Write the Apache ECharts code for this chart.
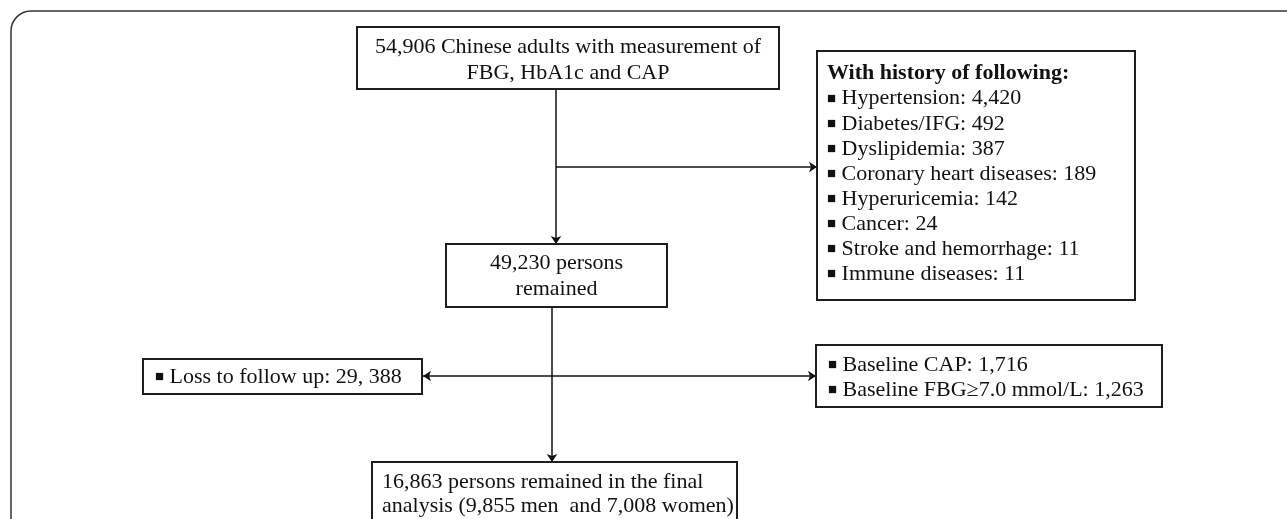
<!DOCTYPE html>
<html>
<head>
<meta charset="utf-8">
<script src="https://cdn.jsdelivr.net/npm/echarts@6/dist/echarts.min.js"></script>
<style>
html, body { margin: 0; padding: 0; background: #fff; }
#chart { width: 1287px; height: 519px; }
</style>
</head>
<body>
<div id="chart"></div>
<script>
// texts of the flow chart
var startLines = ["54,906 Chinese adults with measurement of", "FBG, HbA1c and CAP"];
var historyTitle = "With history of following:";
var historyItems = [
  "Hypertension: 4,420",
  "Diabetes/IFG: 492",
  "Dyslipidemia: 387",
  "Coronary heart diseases: 189",
  "Hyperuricemia: 142",
  "Cancer: 24",
  "Stroke and hemorrhage: 11",
  "Immune diseases: 11"
];
var remainLines = ["49,230 persons", "remained"];
var lossItems = ["Loss to follow up: 29, 388"];
var baselineItems = ["Baseline CAP: 1,716", "Baseline FBG\u22657.0 mmol/L: 1,263"];
var finalLines = ["16,863 persons remained in the final", "analysis (9,855 men  and 7,008 women)"];

var FONT = '"Liberation Serif", "Times New Roman", serif';

function bullets(items) {
  return items.map(function (s) { return "{b|\u25A0} " + s; });
}

// layout of the boxes (page pixels, y downwards)
var boxes = [
  { rect: [357, 27, 779, 89], lines: startLines, align: "center", tx: 568, ty: 34, lh: 26 },
  { rect: [817, 51, 1135, 300], lines: ["{t|" + historyTitle + "}"].concat(bullets(historyItems)), align: "left", tx: 827, ty: 61, lh: 25.1 },
  { rect: [446, 244, 667, 307], lines: remainLines, align: "center", tx: 556.5, ty: 250, lh: 26 },
  { rect: [143, 359, 422, 394], lines: bullets(lossItems), align: "left", tx: 155, ty: 364, lh: 26 },
  { rect: [816, 345, 1162, 407], lines: bullets(baselineItems), align: "left", tx: 828, ty: 352.5, lh: 25 },
  { rect: [372, 462, 737, 570], lines: finalLines, align: "left", tx: 382, ty: 470, lh: 24 }
];

// connectors, arrow at the end
var links = [
  [[556, 89], [556, 244]],
  [[556, 167], [817, 167]],
  [[552, 307], [552, 462]],
  [[552, 376], [423, 376]],
  [[552, 376], [816, 376]]
];

var chart = echarts.init(document.getElementById("chart"));

function renderBox(params, api) {
  var b = boxes[params.dataIndex];
  var p1 = api.coord([api.value(0), api.value(1)]);
  var p2 = api.coord([api.value(2), api.value(3)]);
  var t = api.coord([b.tx, b.ty]);
  return {
    type: "group",
    children: [
      {
        type: "rect",
        shape: { x: p1[0], y: p1[1], width: p2[0] - p1[0], height: p2[1] - p1[1] },
        style: { fill: "#fff", stroke: "#1e1e1e", lineWidth: 2 }
      },
      {
        type: "text",
        x: t[0],
        y: t[1],
        style: {
          text: b.lines.join("\n"),
          fill: "#111",
          fontSize: 22,
          fontFamily: FONT,
          align: b.align,
          verticalAlign: "top",
          lineHeight: b.lh,
          rich: {
            b: { fontSize: 15, fontFamily: FONT, lineHeight: b.lh, fill: "#111" },
            t: { fontSize: 22, fontWeight: "bold", fontFamily: FONT, lineHeight: b.lh, fill: "#111" }
          }
        }
      }
    ]
  };
}

chart.setOption({
  animation: false,
  backgroundColor: "#fff",
  grid: { left: 0, right: 0, top: 0, bottom: 0 },
  xAxis: { type: "value", min: 0, max: 1287, show: false },
  yAxis: { type: "value", min: 0, max: 519, inverse: true, show: false },
  graphic: [
    {
      type: "rect",
      z: -10,
      shape: { x: 11, y: 11, width: 1320, height: 560, r: 20 },
      style: { fill: "none", stroke: "#333", lineWidth: 1.5 }
    }
  ],
  series: [
    {
      type: "lines",
      coordinateSystem: "cartesian2d",
      silent: true,
      symbol: ["none", "arrow"],
      symbolSize: 8,
      lineStyle: { color: "#111", width: 1.5, opacity: 1 },
      data: links.map(function (l) { return { coords: l }; })
    },
    {
      type: "custom",
      silent: true,
      renderItem: renderBox,
      encode: { x: [0, 2], y: [1, 3] },
      data: boxes.map(function (b) { return b.rect; })
    }
  ]
});
</script>
</body>
</html>
